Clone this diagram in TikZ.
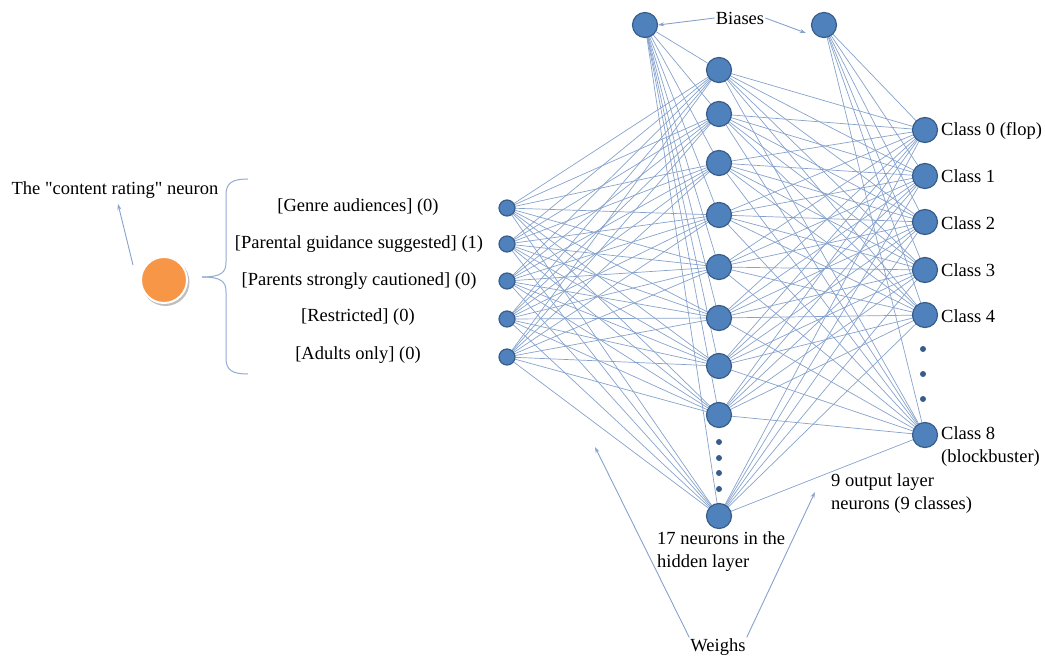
\documentclass[tikz,border=0pt]{standalone}
\usepackage{fontspec}
\setmainfont{Liberation Serif}
\usepackage{tikz}
\usetikzlibrary{positioning,calc,backgrounds,arrows.meta}
\definecolor{nblue}{HTML}{4F81BD}
\definecolor{nedge}{HTML}{385D8A}
\definecolor{wline}{HTML}{86A2CC}
\definecolor{orng}{HTML}{F79646}

\begin{document}
\begin{tikzpicture}[x=1pt,y=-1pt,font=\fontsize{18.5}{23}\selectfont,
 neu/.style={circle,draw=nedge,line width=1.2pt,fill=nblue,inner sep=0pt,minimum size=25pt},
 inp/.style={neu,minimum size=16pt},
 dotn/.style={circle,fill=nedge,inner sep=0pt,minimum size=6pt},
 wt/.style={wline,line width=0.7pt},
 ar/.style={-{Stealth[length=6pt,width=4pt]},wline,line width=0.9pt},
 lbl/.style={inner sep=1pt,align=left,anchor=west}]
\useasboundingbox (0,0) rectangle (1045,658);
% input layer
\node[inp] (in1) at (507,208) {};
\node[inp] (in2) at (507,244) {};
\node[inp] (in3) at (507,281) {};
\node[inp] (in4) at (507,319) {};
\node[inp] (in5) at (507,357) {};
% hidden layer
\node[neu] (h1) at (719,70) {};
\node[neu] (h2) at (719,114) {};
\node[neu] (h3) at (719,163) {};
\node[neu] (h4) at (719,215) {};
\node[neu] (h5) at (719,267) {};
\node[neu] (h6) at (719,318) {};
\node[neu] (h7) at (719,366) {};
\node[neu] (h8) at (719,415) {};
\node[neu] (h9) at (719,516) {};
\foreach \y in {442,458,473,489} \node[dotn] at (719,\y) {};
% output layer
\node[neu] (o1) at (925,130) {};
\node[neu] (o2) at (925,176) {};
\node[neu] (o3) at (925,222) {};
\node[neu] (o4) at (925,270) {};
\node[neu] (o5) at (925,315) {};
\node[neu] (o6) at (925,435) {};
\foreach \y in {349,374,399} \node[dotn] at (923,\y) {};
% biases
\node[neu] (b1) at (645,25) {};
\node[neu] (b2) at (824,25) {};
% weights
\begin{scope}[on background layer]
\foreach \i in {1,...,5}
 \foreach \j in {1,...,9}
  \draw[wt] (in\i.center) -- (h\j.center);
\foreach \j in {1,...,9}
 \draw[wt] (b1.center) -- (h\j.center);
\foreach \j in {1,...,9}
 \foreach \k in {1,...,6}
  \draw[wt] (h\j.center) -- (o\k.center);
\foreach \k in {1,...,6}
 \draw[wt] (b2.center) -- (o\k.center);
\end{scope}
% input labels
\node (t1) at (358,207) {[Genre audiences] (0)};
\node (t2) at (359,244) {[Parental guidance suggested] (1)};
\node (t3) at (359,281) {[Parents strongly cautioned] (0)};
\node (t4) at (358,317) {[Restricted] (0)};
\node (t5) at (358,355) {[Adults only] (0)};
% output labels
\node[lbl] (c0) at (940,131) {Class 0 (flop)};
\node[lbl] (c1) at (940,176) {Class 1};
\node[lbl] (c2) at (940,223) {Class 2};
\node[lbl] (c3) at (940,270) {Class 3};
\node[lbl] (c4) at (940,316) {Class 4};
\node[lbl,anchor=north west] (c8) at (940,425) {Class 8\\(blockbuster)};
% content rating neuron
\fill[black!25] (165.5,282) circle (24);
\node[circle,fill=orng,draw=white,line width=2pt,minimum size=46pt,inner sep=0pt] (cr) at (164,280) {};
\node (crl) at (115,190) {The \textquotedbl content rating\textquotedbl\ neuron};
\coordinate (crs) at (133,265);
\draw[ar] (crs) -- ($(crl.south)+(3,2)$);
\draw[wline!90,line width=1pt] (248,179) .. controls (232,179) and (226,183) .. (226,195) -- (226,262)
 .. controls (226,272) and (222,277) .. (202,277);
\draw[wline!90,line width=1pt] (248,374) .. controls (232,374) and (226,370) .. (226,358) -- (226,292)
 .. controls (226,282) and (222,277) .. (202,277);
% annotations
\node[inner sep=1pt] (bias) at (740,18) {Biases};
\draw[ar] (bias.west) -- (b1.east);
\draw[ar] (bias.east) -- ($(b2.west)+(-5,8)$);
\node[inner sep=1pt,align=left,anchor=north west] (hid) at (656,530) {17 neurons in the\\hidden layer};
\node[inner sep=1pt,align=left,anchor=north west] (outl) at (830,472) {9 output layer\\neurons (9 classes)};
\node[inner sep=1pt] (wgh) at (718,647) {Weighs};
\coordinate (w1) at (595,447);
\coordinate (w2) at (815,492);
\draw[ar] (wgh.north west) -- (w1);
\draw[ar] (wgh.north east) -- (w2);
\end{tikzpicture}
\end{document}
